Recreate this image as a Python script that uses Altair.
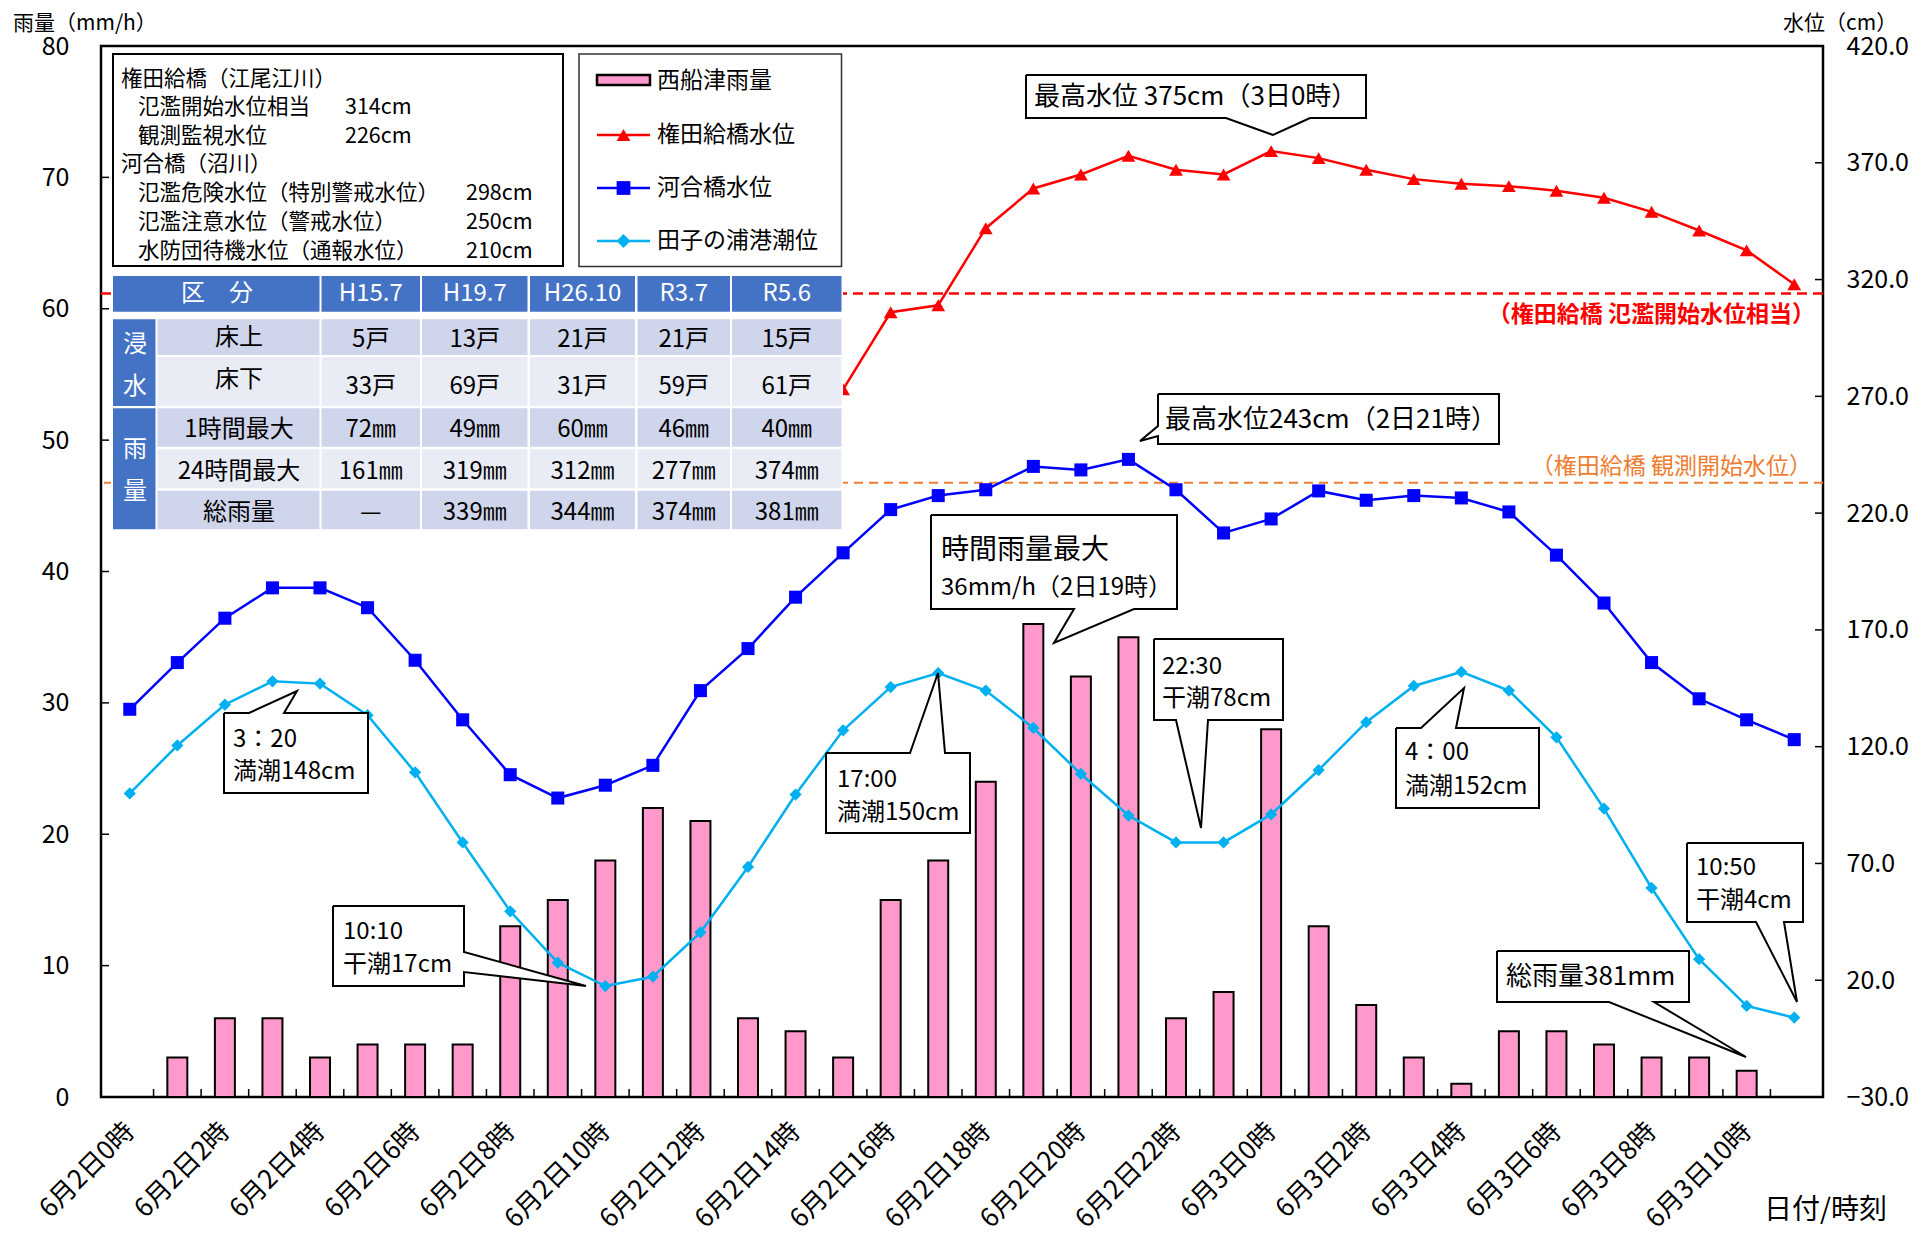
import altair as alt
import pandas as pd

FONT = "Noto Sans CJK JP"

# ---------------- data ----------------
hours = list(range(36))
rain = [0, 3, 6, 6, 3, 4, 4, 4, 13, 15, 18, 22, 21, 6, 5, 3, 15, 18, 24, 36, 32, 35,
        6, 8, 28, 13, 7, 3, 1, 5, 5, 4, 3, 3, 2, 0]
kawai = [136, 156, 175, 188, 188, 179.5, 157, 131.5, 108, 98, 103.5, 112, 144, 162, 184, 203,
         221.5, 227.5, 230, 240, 238.5, 243, 230, 211.5, 217.5, 229.5, 225.5, 227.5, 226.5,
         220.5, 202, 181.5, 156, 140.5, 131.5, 123]
gonda_hours = list(range(15, 36))
gonda = [273, 306, 309, 342, 359, 365, 373, 367, 365, 375, 372, 367, 363, 361, 360, 358, 355,
         349, 341, 332.5, 318]
tide = [100, 120.5, 138, 148, 147, 133.5, 109, 79, 49.5, 27.5, 17.5, 21.5, 40.5, 68.5, 99.5,
        127, 145.5, 151.5, 144, 128, 108.3, 90.5, 79, 79, 91, 110, 130.5, 146, 152, 144, 124,
        93.5, 59.5, 29, 9, 4]
flood_start = 314      # 権田給橋 氾濫開始水位相当
watch_start = 233      # 権田給橋 観測開始水位 (line as drawn)

tbl_header = ["区　分", "H15.7", "H19.7", "H26.10", "R3.7", "R5.6"]
tbl_rows = ["床上", "床下", "1時間最大", "24時間最大", "総雨量"]
tbl_values = [
    ["5戸", "13戸", "21戸", "21戸", "15戸"],
    ["33戸", "69戸", "31戸", "59戸", "61戸"],
    ["72㎜", "49㎜", "60㎜", "46㎜", "40㎜"],
    ["161㎜", "319㎜", "312㎜", "277㎜", "374㎜"],
    ["—", "339㎜", "344㎜", "374㎜", "381㎜"],
]

# ---------------- layout ----------------
L, T = 101, 46          # plot-area origin on the page
W, H = 1722, 1051

xscale = alt.Scale(domain=[-0.5, 35.5], nice=False, zero=False)
yl_scale = alt.Scale(domain=[0, 80], nice=False, zero=False)
yr_scale = alt.Scale(domain=[-30, 420], nice=False, zero=False)

x_axis = alt.Axis(values=list(range(0, 36, 2)),
                  labelExpr="datum.value < 24 ? '6月2日' + datum.value + '時' : '6月3日' + (datum.value - 24) + '時'",
                  labelAngle=315, labelAlign="right", labelBaseline="middle", labelFontSize=26,
                  labelPadding=30, ticks=False, tickSize=0, domain=False, grid=False, title=None,
                  labelOverlap=False, labelFlush=False, labelBound=False)
left_axis = alt.Axis(values=list(range(0, 81, 10)), orient="left", ticks=False, tickSize=0,
                     domain=False, grid=False, labelFontSize=25, labelPadding=32, title=None,
                     labelOverlap=False, labelFlush=False)
right_axis = alt.Axis(values=[-30 + 50 * i for i in range(10)], orient="right", format=".1f",
                      ticks=False, tickSize=0, domain=False, grid=False, labelFontSize=25,
                      labelPadding=23, title=None, labelOverlap=False, labelFlush=False)


def X(field):
    return alt.X(f"{field}:Q", scale=xscale, axis=x_axis)


def YL(field):
    return alt.Y(f"{field}:Q", scale=yl_scale, axis=left_axis)


def YR(field):
    return alt.Y(f"{field}:Q", scale=yr_scale, axis=right_axis)


PX = dict(scale=None, axis=None)

# ---------------- left group: rain ----------------
rain_df = pd.DataFrame({"hour": hours, "rain": rain})
bars = alt.Chart(rain_df).transform_filter("datum.rain > 0").mark_bar(
    size=20, color="#FF99CC", stroke="black", strokeWidth=2
).encode(x=X("hour"), y=YL("rain"))

lticks = alt.Chart(pd.DataFrame({"v": list(range(0, 81, 10))})).mark_rule(
    color="black", strokeWidth=1.5
).encode(x=alt.value(0), x2=alt.value(8), y=YL("v"))

bticks = alt.Chart(pd.DataFrame({"b": [h + 0.5 for h in range(35)]})).mark_rule(
    color="black", strokeWidth=1.5
).encode(x=X("b"), y=alt.value(H - 8), y2=alt.value(H))

left_group = alt.layer(bars, lticks, bticks)

# ---------------- right group: water levels ----------------
rticks = alt.Chart(pd.DataFrame({"v": [-30 + 50 * i for i in range(10)]})).mark_rule(
    color="black", strokeWidth=1.5
).encode(x=alt.value(W - 8), x2=alt.value(W), y=YR("v"))

red_rule = alt.Chart(pd.DataFrame({"v": [flood_start]})).mark_rule(
    color="#FF0000", strokeWidth=2.5, strokeDash=[10, 6]
).encode(y=YR("v"))
orange_rule = alt.Chart(pd.DataFrame({"v": [watch_start]})).mark_rule(
    color="#ED7D31", strokeWidth=2, strokeDash=[9, 6]
).encode(y=YR("v"))


def series(h, v, color, shape, size):
    df = pd.DataFrame({"hour": h, "v": v})
    return alt.Chart(df).mark_line(
        color=color, strokeWidth=2.5,
        point=alt.OverlayMarkDef(shape=shape, size=size, filled=True, color=color, opacity=1)
    ).encode(x=X("hour"), y=YR("v"))


tide_line = series(hours, tide, "#00B0F0", "diamond", 150)
kawai_line = series(hours, kawai, "#0000FF", "square", 170)
gonda_line = series(gonda_hours, gonda, "#FF0000", "triangle-up", 190)

right_group = alt.layer(rticks, red_rule, orange_rule, tide_line, kawai_line, gonda_line)


# ---------------- decorations (pixel coordinates) ----------------
def rects(rows, **kw):
    df = pd.DataFrame([{"x": a - L, "x2": b - L, "y": c - T, "y2": d - T, "c": col}
                       for a, c, b, d, col in rows])
    return alt.Chart(df).mark_rect(**kw).encode(
        x=alt.X("x:Q", **PX), x2="x2:Q", y=alt.Y("y:Q", **PX), y2="y2:Q",
        fill=alt.Fill("c:N", scale=None, legend=None))


def texts(rows, size, color="black", align="left", weight="normal"):
    df = pd.DataFrame([{"x": x - L, "y": y - T, "t": t} for t, x, y in rows])
    return alt.Chart(df).mark_text(
        align=align, baseline="middle", font=FONT, fontSize=size, color=color, fontWeight=weight
    ).encode(x=alt.X("x:Q", **PX), y=alt.Y("y:Q", **PX), text="t:N")


# table
col_edges = [(157.4, 319.5), (321.5, 420), (422, 527.5), (530, 635), (637.5, 730), (732, 841.5)]
row_edges = [(319.3, 355), (357.3, 406), (408.3, 446.7), (449.3, 488.3), (490.7, 529.3)]
row_cols = ["#CFD5EA", "#E9EBF5", "#CFD5EA", "#E9EBF5", "#CFD5EA"]
BLUE = "#4472C4"
cells = [(111, 274, 843, 531, "white")]
cells.append((113, 276, 319.5, 311.7, BLUE))
for a, b in col_edges[1:]:
    cells.append((a, 276, b, 311.7, BLUE))
cells.append((113, 319.3, 155.5, 406, BLUE))
cells.append((113, 408.3, 155.5, 529.3, BLUE))
for (c, d), rc in zip(row_edges, row_cols):
    for a, b in col_edges:
        cells.append((a, c, b, d, rc))
table_rects = rects(cells)

hdr_x = [217] + [(a + b) / 2 for a, b in col_edges[1:]]
hdr_text = texts([(t, x, 294) for t, x in zip(tbl_header, hdr_x)], 24, color="white", align="center")
side_text = texts([("浸", 135, 345), ("水", 135, 387), ("雨", 135, 450), ("量", 135, 492)],
                  24, color="white", align="center")
label_y = [338, 380, 430, 472, 513]
value_y = [340, 387, 430, 472, 513]
row_label_text = texts([(t, 239, y) for t, y in zip(tbl_rows, label_y)], 24, align="center")
val_rows = []
for vals, y in zip(tbl_values, value_y):
    for v, (a, b) in zip(vals, col_edges[1:]):
        val_rows.append((v, (a + b) / 2, y))
value_text = texts(val_rows, 24, align="center")

# info box
info_box = rects([(113, 54, 563, 266, "white")], stroke="black", strokeWidth=2)
info_text = texts([
    ("権田給橋（江尾江川）", 121, 80),
    ("氾濫開始水位相当", 138, 108), ("314cm", 345, 108),
    ("観測監視水位", 138, 137), ("226cm", 345, 137),
    ("河合橋（沼川）", 121, 165),
    ("氾濫危険水位（特別警戒水位）", 138, 194), ("298cm", 466, 194),
    ("氾濫注意水位（警戒水位）", 138, 223), ("250cm", 466, 223),
    ("水防団待機水位（通報水位）", 138, 252), ("210cm", 466, 252),
], 21.5)

# legend
leg_box = rects([(579, 54, 841.5, 266.5, "white")], stroke="#333333", strokeWidth=1.5)
leg_bar = rects([(597, 75, 650, 85, "#FF99CC")], stroke="black", strokeWidth=2.5)
leg_y = [135, 188, 241]
leg_cols = ["#FF0000", "#0000FF", "#00B0F0"]
leg_shapes = ["triangle-up", "square", "diamond"]
leg_lines_df = pd.DataFrame({"x": [597 - L] * 3, "x2": [650 - L] * 3,
                             "y": [y - T for y in leg_y], "c": leg_cols})
leg_lines = alt.Chart(leg_lines_df).mark_rule(strokeWidth=2.5).encode(
    x=alt.X("x:Q", **PX), x2="x2:Q", y=alt.Y("y:Q", **PX),
    color=alt.Color("c:N", scale=None, legend=None))
leg_pts_df = pd.DataFrame({"x": [623.5 - L] * 3, "y": [y - T for y in leg_y],
                           "c": leg_cols, "s": leg_shapes})
leg_pts = alt.Chart(leg_pts_df).mark_point(filled=True, size=190, opacity=1).encode(
    x=alt.X("x:Q", **PX), y=alt.Y("y:Q", **PX),
    color=alt.Color("c:N", scale=None, legend=None),
    shape=alt.Shape("s:N", scale=None, legend=None))
leg_text = texts([("西船津雨量", 657, 81), ("権田給橋水位", 657, 135),
                  ("河合橋水位", 657, 188), ("田子の浦港潮位", 657, 241)], 23)

# callouts (box + pointer), page pixel coordinates
callouts = [
    [(1026, 75), (1366, 75), (1366, 118), (1310, 118), (1273, 135), (1226, 118), (1026, 118)],
    [(1158, 394), (1499, 394), (1499, 444), (1158, 444), (1158, 436), (1140, 441), (1158, 426)],
    [(931, 515), (1177, 515), (1177, 609), (1134, 609), (1054, 643), (1074, 609), (931, 609)],
    [(1154, 639), (1283, 639), (1283, 720), (1208, 720), (1201, 828), (1176, 720), (1154, 720)],
    [(224, 713), (249, 713), (297, 691), (284, 713), (368, 713), (368, 793), (224, 793)],
    [(333, 906), (464, 906), (464, 952), (586, 986), (464, 972), (464, 986), (333, 986)],
    [(826, 753), (910, 753), (938, 673), (945, 753), (970, 753), (970, 833), (826, 833)],
    [(1396, 728), (1421, 728), (1464, 688), (1456, 728), (1539, 728), (1539, 808), (1396, 808)],
    [(1687, 843), (1803, 843), (1803, 922), (1784, 922), (1797, 1002), (1756, 922), (1687, 922)],
    [(1497, 951), (1689, 951), (1689, 1002), (1654, 1002), (1746, 1057), (1609, 1002), (1497, 1002)],
]
poly_rows = []
for pid, pts in enumerate(callouts):
    for i, (x, y) in enumerate(pts + [pts[0]]):
        poly_rows.append({"id": pid, "i": i, "x": x - L, "y": y - T})
callout_shapes = alt.Chart(pd.DataFrame(poly_rows)).mark_line(
    color="black", fill="white", strokeWidth=2, interpolate="linear"
).encode(x=alt.X("x:Q", **PX), y=alt.Y("y:Q", **PX), detail="id:N", order="i:Q")

callout_text = texts([
    ("36mm/h（2日19時）", 941, 588),
    ("22:30", 1162, 667), ("干潮78cm", 1162, 699),
    ("3：20", 233, 740), ("満潮148cm", 233, 772),
    ("10:10", 343, 932), ("干潮17cm", 343, 965),
    ("17:00", 837, 780), ("満潮150cm", 837, 813),
    ("4：00", 1405, 753), ("満潮152cm", 1405, 787),
    ("10:50", 1696, 868), ("干潮4cm", 1696, 901),
], 24)
callout_mid = texts([
    ("最高水位 375cm（3日0時）", 1034, 97),
    ("最高水位243cm（2日21時）", 1165, 420),
    ("総雨量381mm", 1506, 977),
], 26)
callout_big = texts([("時間雨量最大", 941, 551)], 28)

red_label = texts([("（権田給橋 氾濫開始水位相当）", 1815, 315)], 23, color="#FF0000",
                  align="right", weight="bold")
orange_label = texts([("（権田給橋 観測開始水位）", 1812, 467)], 23, color="#ED7D31", align="right")

titles = texts([("雨量（mm/h）", 13, 24), ("水位（cm）", 1783, 24)], 21)
xtitle = texts([("日付/時刻", 1764, 1211)], 28)

decor = alt.layer(
    table_rects, hdr_text, side_text, row_label_text, value_text,
    info_box, info_text,
    leg_box, leg_bar, leg_lines, leg_pts, leg_text,
    callout_shapes, callout_text, callout_mid, callout_big,
    red_label, orange_label, titles, xtitle,
)

chart = alt.layer(left_group, right_group, decor).resolve_scale(y="independent").properties(
    width=W, height=H,
    autosize=alt.AutoSizeParams(type="none"),
    padding={"left": L - 8, "top": T - 8, "right": 101, "bottom": 138},
).configure_view(stroke="black", strokeWidth=2.5).configure_axis(
    labelFont=FONT, labelColor="black"
).configure_text(font=FONT)

chart.save("out.html", embed_options={"renderer": "svg", "actions": False})
